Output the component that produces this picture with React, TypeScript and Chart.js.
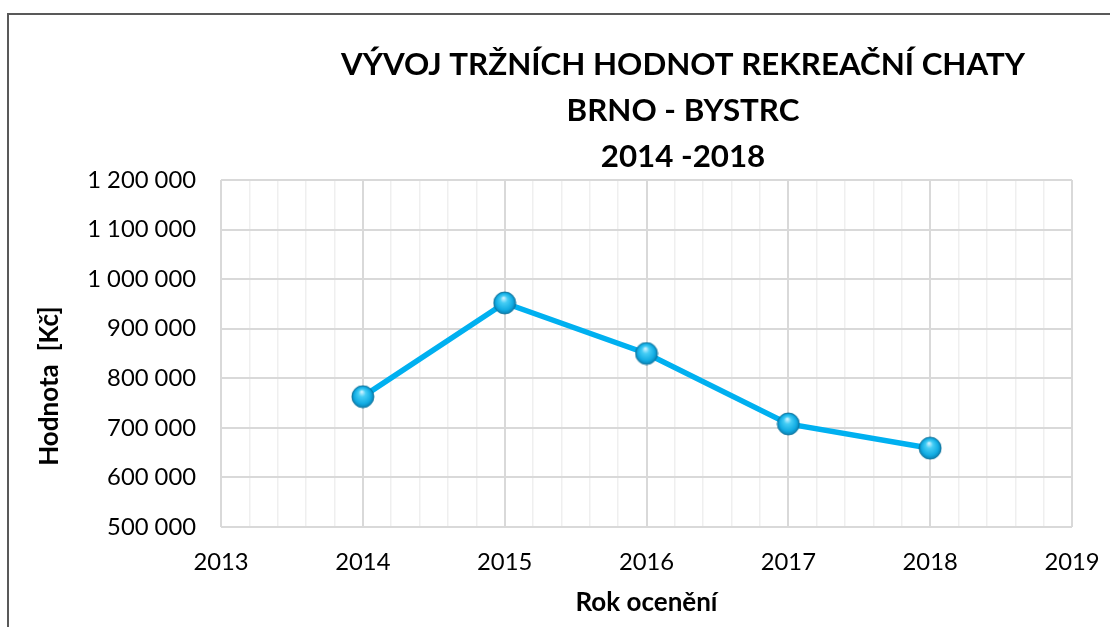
import React, { useEffect, useRef } from 'react';
import { Chart, registerables } from 'chart.js';

Chart.register(...registerables);

const years = [2014, 2015, 2016, 2017, 2018];
const values = [763000, 952000, 850000, 708000, 659000];
const titleLines = ['VÝVOJ TRŽNÍCH HODNOT REKREAČNÍ CHATY', 'BRNO - BYSTRC', '2014 -2018'];
const yAxisTitle = 'Hodnota  [Kč]';
const xAxisTitle = 'Rok ocenění';
const xMin = 2013;
const xMax = 2019;
const xMinorStep = 0.2;
const yMin = 500000;
const yMax = 1200000;
const yStep = 100000;

const FONT = 'Lato';
const TICK_SIZE = 23.8;
const AXIS_TITLE_SIZE = 26;

function makeSphere(r: number): HTMLCanvasElement {
  const size = Math.ceil(r * 2 + 2);
  const c = document.createElement('canvas');
  c.width = size;
  c.height = size;
  const ctx = c.getContext('2d')!;
  const cx = size / 2;
  const cy = size / 2;
  const g = ctx.createRadialGradient(cx - r * 0.1, cy - r * 0.45, r * 0.05, cx, cy, r);
  g.addColorStop(0, '#c8f1ff');
  g.addColorStop(0.3, '#45cdf5');
  g.addColorStop(0.75, '#12ace3');
  g.addColorStop(1, '#0a7fb1');
  ctx.beginPath();
  ctx.arc(cx, cy, r, 0, Math.PI * 2);
  ctx.fillStyle = g;
  ctx.fill();
  ctx.lineWidth = 1;
  ctx.strokeStyle = 'rgba(8,110,150,0.8)';
  ctx.stroke();
  return c;
}

function fmt(v: number): string {
  return Math.round(v).toString().replace(/\B(?=(\d{3})+(?!\d))/g, ' ');
}

const isMajor = (v: number) => Math.abs(v - Math.round(v)) < 1e-6;

const yTitlePlugin = {
  id: 'yTitleCustom',
  afterDraw(chart: any) {
    const ctx = chart.ctx;
    ctx.save();
    ctx.translate(41, 371);
    ctx.rotate(-Math.PI / 2);
    ctx.font = `bold ${AXIS_TITLE_SIZE}px ${FONT}`;
    ctx.fillStyle = '#000';
    ctx.textAlign = 'center';
    ctx.textBaseline = 'middle';
    ctx.fillText(yAxisTitle, 0, 0);
    ctx.restore();
  },
};

export default function App() {
  const ref = useRef<HTMLCanvasElement>(null);

  useEffect(() => {
    if (!ref.current) return;
    Chart.defaults.font.family = FONT;
    const sphere = makeSphere(11);
    const chart = new Chart(ref.current, {
      type: 'line',
      data: {
        datasets: [
          {
            data: years.map((y, i) => ({ x: y, y: values[i] })),
            borderColor: '#00b0f0',
            borderWidth: 5.5,
            pointStyle: sphere as any,
            pointRadius: 11,
            backgroundColor: '#00b0f0',
            tension: 0,
            xAxisID: 'x',
            yAxisID: 'y',
          },
        ],
      },
      options: {
        responsive: false,
        animation: false,
        events: [],
        layout: { padding: 0 },
        plugins: {
          legend: { display: false },
          tooltip: { enabled: false },
          title: {
            display: true,
            text: titleLines,
            color: '#000',
            font: { family: FONT, size: 31.3, weight: 'bold', lineHeight: 46 / 31.3 },
            padding: { top: 27, bottom: 0 },
          },
        },
        scales: {
          x: {
            type: 'linear',
            min: xMin,
            max: xMax,
            border: { display: false },
            grid: {
              drawTicks: false,
              color: (ctx: any) => (isMajor(ctx.tick.value) ? '#d9d9d9' : '#efefef'),
              lineWidth: (ctx: any) => (isMajor(ctx.tick.value) ? 2 : 1.5),
            },
            ticks: {
              stepSize: xMinorStep,
              autoSkip: false,
              maxRotation: 0,
              padding: 21,
              color: '#000',
              font: { size: TICK_SIZE },
              callback: (v: any) => (isMajor(Number(v)) ? String(Math.round(Number(v))) : ''),
            },
            title: {
              display: true,
              text: xAxisTitle,
              color: '#000',
              font: { size: AXIS_TITLE_SIZE, weight: 'bold' },
              padding: { top: 0, bottom: 8.5 },
            },
            afterFit: (s: any) => {
              s.height = 100;
            },
          },
          y: {
            type: 'linear',
            position: 'left',
            min: yMin,
            max: yMax,
            border: { display: false },
            grid: { drawTicks: false, color: '#d9d9d9', lineWidth: 2 },
            ticks: {
              stepSize: yStep,
              padding: 25,
              color: '#000',
              font: { size: TICK_SIZE },
              callback: (v: any) => fmt(Number(v)),
            },
            afterFit: (s: any) => {
              s.width = 212;
            },
          },
          yDummy: {
            type: 'linear',
            position: 'right',
            display: true,
            border: { display: false },
            grid: { display: false, drawTicks: false },
            ticks: { display: false },
            afterFit: (s: any) => {
              s.width = 285;
            },
          },
        },
      },
      plugins: [yTitlePlugin],
    });
    return () => chart.destroy();
  }, []);

  return (
    <div style={{ position: 'fixed', left: 0, top: 0, width: 1110, height: 627, overflow: 'hidden', background: '#fff' }}>
      <div
        style={{
          position: 'absolute',
          left: 7,
          top: 13,
          borderLeft: '2px solid #595959',
          borderTop: '2px solid #595959',
          width: 1348,
          height: 640,
        }}
      >
        <canvas ref={ref} width={1348} height={612} style={{ display: 'block' }} />
      </div>
    </div>
  );
}
